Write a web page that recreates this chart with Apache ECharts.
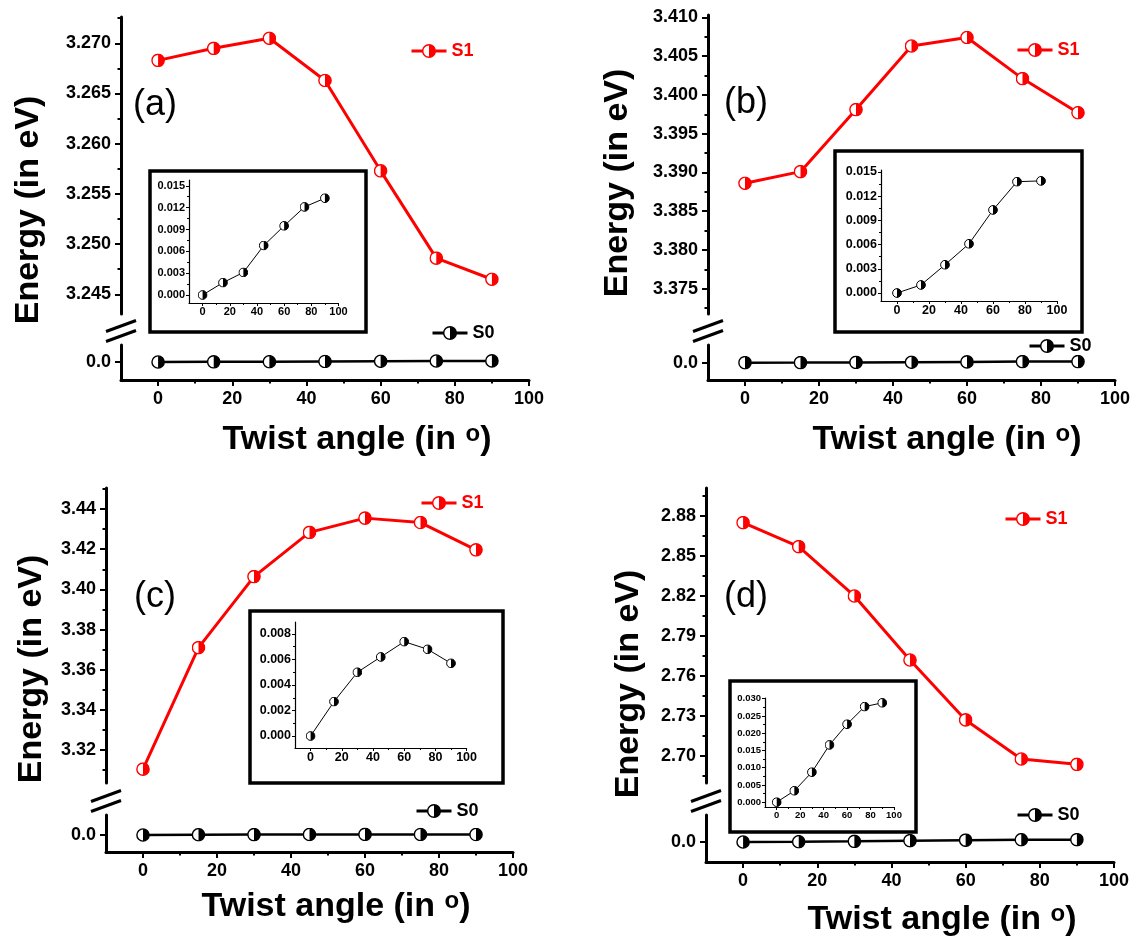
<!DOCTYPE html>
<html><head><meta charset="utf-8">
<script src="https://cdn.jsdelivr.net/npm/echarts@6/dist/echarts.min.js"></script>
<style>html,body{margin:0;padding:0;background:#fff}#c{width:1130px;height:940px}</style>
</head><body><div id="c"></div>
<script>
// ---------------- data ----------------
const angles = [0, 15, 30, 45, 60, 75, 90];

const s1A = [3.2683, 3.2695, 3.2705, 3.2663, 3.2573, 3.2486, 3.2465];
const s0A = [0.0000, 0.0017, 0.0031, 0.0068, 0.0095, 0.0121, 0.0133];

const s1B = [3.3886, 3.3901, 3.3981, 3.4063, 3.4074, 3.4021, 3.3977];
const s0B = [0.0000, 0.0010, 0.0035, 0.0061, 0.0103, 0.0138, 0.0139];

const s1C = [3.3105, 3.3710, 3.4064, 3.4284, 3.4355, 3.4333, 3.4197];
const s0C = [0.0000, 0.0027, 0.0050, 0.0062, 0.0074, 0.0068, 0.0057];

const s1D = [2.8750, 2.8570, 2.8200, 2.7720, 2.7270, 2.6977, 2.6937];
const s0D = [0.0000, 0.0033, 0.0087, 0.0166, 0.0226, 0.0277, 0.0288];

const xTicks = [0, 20, 40, 60, 80, 100];
const xMinor = [10, 30, 50, 70, 90];
const zeroTick = [0];

const yTicksA = [3.245, 3.250, 3.255, 3.260, 3.265, 3.270];
const yTicksB = [3.375, 3.380, 3.385, 3.390, 3.395, 3.400, 3.405, 3.410];
const yTicksC = [3.32, 3.34, 3.36, 3.38, 3.40, 3.42, 3.44];
const yTicksD = [2.70, 2.73, 2.76, 2.79, 2.82, 2.85, 2.88];

const insetTicksA = [0.000, 0.003, 0.006, 0.009, 0.012, 0.015];
const insetTicksB = [0.000, 0.003, 0.006, 0.009, 0.012, 0.015];
const insetTicksC = [0.000, 0.002, 0.004, 0.006, 0.008];
const insetTicksD = [0.000, 0.005, 0.010, 0.015, 0.020, 0.025, 0.030];

const panelLabels = ['(a)', '(b)', '(c)', '(d)'];
const xTitle = 'Twist angle (in {s|o})';
const yTitle = 'Energy (in eV)';

// ---------------- style / layout ----------------
const FONT = "'Liberation Sans', Arial, Helvetica, sans-serif";
const RED = '#ff0000';
const BLACK = '#000000';

function marker(color) {
  const svg = '<svg xmlns="http://www.w3.org/2000/svg" width="40" height="40" viewBox="0 0 40 40">' +
    '<circle cx="20" cy="20" r="17.5" fill="#ffffff" stroke="' + color + '" stroke-width="4"/>' +
    '<path d="M20 2.5 A17.5 17.5 0 0 1 20 37.5 Z" fill="' + color + '"/></svg>';
  return 'image://data:image/svg+xml;charset=utf-8,' + encodeURIComponent(svg);
}
const MK_RED = marker(RED);
const MK_BLACK = marker(BLACK);

function minorOf(ticks, min, max) {
  const step = (ticks[1] - ticks[0]) / 2;
  const out = [];
  const first = ticks[0] - step;
  for (let i = 0; i <= ticks.length; i++) {
    const v = first + i * 2 * step;
    if (v > min && v < max) out.push(+v.toFixed(6));
  }
  return out;
}

const panels = [
  { s1: s1A, s0: s0A, yTicks: yTicksA, dec: 3, insetTicks: insetTicksA, label: panelLabels[0],
    left: 121, width: 408,
    up: { top: 17, height: 297, min: 3.24304, max: 3.27262 },
    low: { top: 345, height: 35, min: -0.225, max: 0.2125 },
    inset: { left: 189, top: 180, width: 149.5, height: 123, min: -0.0011, max: 0.0158, fs: 11 },
    box: [150, 171, 216, 161],
    brk: [121, 331],
    legS1: [410, 52], legS0: [431, 334],
    lab: [155, 105], ylab: [29, 210], xlab: [357, 440] },
  { s1: s1B, s0: s0B, yTicks: yTicksB, dec: 3, insetTicks: insetTicksB, label: panelLabels[1],
    left: 708, width: 407,
    up: { top: 15, height: 299, min: 3.37174, max: 3.4103 },
    low: { top: 345, height: 35, min: -0.216, max: 0.221 },
    inset: { left: 881, top: 170, width: 176, height: 131, min: -0.00099, max: 0.01525, fs: 12.5 },
    box: [835, 151, 247, 181],
    brk: [708, 331],
    legS1: [1016, 51], legS0: [1028, 347],
    lab: [746, 103], ylab: [618, 183], xlab: [947, 440] },
  { s1: s1C, s0: s0C, yTicks: yTicksC, dec: 2, insetTicks: insetTicksC, label: panelLabels[2],
    left: 106, width: 407,
    up: { top: 488, height: 295, min: 3.3036, max: 3.4505 },
    low: { top: 815, height: 37, min: -0.2125, max: 0.25 },
    inset: { left: 295, top: 622, width: 171.6, height: 126, min: -0.00094, max: 0.00894, fs: 12.5 },
    box: [250, 611, 253, 172],
    brk: [106, 801],
    legS1: [420, 504], legS0: [415, 812],
    lab: [155, 597], ylab: [32, 669], xlab: [336, 907] },
  { s1: s1D, s0: s0D, yTicks: yTicksD, dec: 2, insetTicks: insetTicksD, label: panelLabels[3],
    left: 706, width: 408,
    up: { top: 488, height: 295, min: 2.6797, max: 2.901 },
    low: { top: 815, height: 47, min: -0.25, max: 0.3375 },
    inset: { left: 765, top: 698, width: 129, height: 109, min: -0.0014, max: 0.0302, fs: 9.5 },
    box: [730, 681, 186, 151],
    brk: [706, 801],
    legS1: [1004, 520], legS0: [1016, 816],
    lab: [746, 597], ylab: [629, 684], xlab: [942, 920] }
];

const grid = [], xAxis = [], yAxis = [], series = [], legend = [], graphic = [];

function axis(o) {
  return {
    type: 'value', gridIndex: o.grid, min: o.min, max: o.max, position: o.pos,
    show: o.show !== false,
    splitLine: { show: false },
    axisLine: { show: !!o.line, onZero: false, lineStyle: { color: BLACK, width: o.lw || 1 } },
    axisTick: { show: true, inside: false, customValues: o.ticks, length: o.tl,
      lineStyle: { color: BLACK, width: o.tw } },
    axisLabel: o.fmt ? { show: true, customValues: o.ticks, formatter: o.fmt, margin: o.margin,
      color: BLACK, fontSize: o.fs, fontWeight: 'bold', fontFamily: FONT } : { show: false }
  };
}

panels.forEach((p, k) => {
  const g0 = grid.length;
  grid.push({ left: p.left, top: p.up.top, width: p.width, height: p.up.height, outerBoundsMode: 'none' });
  grid.push({ left: p.left, top: p.low.top, width: p.width, height: p.low.height, outerBoundsMode: 'none' });
  grid.push({ left: p.inset.left, top: p.inset.top, width: p.inset.width, height: p.inset.height, outerBoundsMode: 'none' });

  const xi = xAxis.length, yi = yAxis.length;
  // x axes
  xAxis.push(axis({ grid: g0, min: -10, max: 100, pos: 'bottom', show: false, ticks: xTicks, tl: 0, tw: 0 }));
  xAxis.push(axis({ grid: g0 + 1, min: -10, max: 100, pos: 'bottom', line: true, lw: 3, ticks: xTicks, tl: 6, tw: 2,
    fmt: v => String(v), margin: 10, fs: 18 }));
  xAxis.push(axis({ grid: g0 + 1, min: -10, max: 100, pos: 'bottom', ticks: xMinor, tl: 3.5, tw: 2 }));
  xAxis.push(axis({ grid: g0 + 2, min: -10, max: 100, pos: 'bottom', line: true, lw: 1.2, ticks: xTicks, tl: 3, tw: 1,
    fmt: v => String(v), margin: 3, fs: p.inset.fs }));
  xAxis.push(axis({ grid: g0 + 2, min: -10, max: 100, pos: 'bottom', ticks: xMinor, tl: 2, tw: 1 }));
  // y axes
  yAxis.push(axis({ grid: g0, min: p.up.min, max: p.up.max, pos: 'left', line: true, lw: 3, ticks: p.yTicks, tl: 6, tw: 2,
    fmt: v => v.toFixed(p.dec), margin: 10, fs: 18 }));
  yAxis.push(axis({ grid: g0, min: p.up.min, max: p.up.max, pos: 'left', ticks: minorOf(p.yTicks, p.up.min, p.up.max), tl: 3.5, tw: 2 }));
  yAxis.push(axis({ grid: g0 + 1, min: p.low.min, max: p.low.max, pos: 'left', line: true, lw: 3, ticks: zeroTick, tl: 6, tw: 2,
    fmt: v => v.toFixed(1), margin: 10, fs: 18 }));
  yAxis.push(axis({ grid: g0 + 2, min: p.inset.min, max: p.inset.max, pos: 'left', line: true, lw: 1.2, ticks: p.insetTicks, tl: 3, tw: 1,
    fmt: v => v.toFixed(3), margin: 4, fs: p.inset.fs }));
  yAxis.push(axis({ grid: g0 + 2, min: p.inset.min, max: p.inset.max, pos: 'left', ticks: minorOf(p.insetTicks, p.inset.min, p.inset.max), tl: 2, tw: 1 }));

  series.push({
    type: 'line', name: 'S1', xAxisIndex: xi, yAxisIndex: yi,
    data: angles.map((a, i) => [a, p.s1[i]]),
    symbol: MK_RED, symbolSize: 14, lineStyle: { color: RED, width: 3 }, itemStyle: { color: RED },
    z: 3, animation: false, silent: true
  });
  series.push({
    type: 'line', name: 'S0', xAxisIndex: xi + 1, yAxisIndex: yi + 2,
    data: angles.map((a, i) => [a, p.s0[i]]),
    symbol: MK_BLACK, symbolSize: 14, lineStyle: { color: BLACK, width: 2.5 }, itemStyle: { color: BLACK },
    z: 3, animation: false, silent: true
  });
  series.push({
    type: 'line', name: 'inset ' + k, xAxisIndex: xi + 3, yAxisIndex: yi + 3,
    data: angles.map((a, i) => [a, p.s0[i]]),
    symbol: MK_BLACK, symbolSize: 10, lineStyle: { color: BLACK, width: 1 }, itemStyle: { color: BLACK },
    z: 3, animation: false, silent: true
  });

  legend.push({ data: ['S1'], left: p.legS1[0], top: p.legS1[1] - 10, padding: 0, itemWidth: 35, itemHeight: 18,
    lineStyle: { width: 3, color: RED },
    selectedMode: false, textStyle: { color: RED, fontSize: 18, fontWeight: 'bold', fontFamily: FONT } });
  legend.push({ data: ['S0'], left: p.legS0[0], top: p.legS0[1] - 10, padding: 0, itemWidth: 35, itemHeight: 18,
    lineStyle: { width: 3, color: BLACK },
    selectedMode: false, textStyle: { color: BLACK, fontSize: 18, fontWeight: 'bold', fontFamily: FONT } });

  // inset frame
  graphic.push({ type: 'rect', shape: { x: p.box[0], y: p.box[1], width: p.box[2], height: p.box[3] },
    style: { fill: 'none', stroke: BLACK, lineWidth: 3.5 }, z: 10, silent: true });
  // axis break marks
  const cx = p.brk[0], cy = p.brk[1];
  graphic.push({ type: 'rect', shape: { x: cx - 16, y: cy - 11, width: 32, height: 22 }, style: { fill: '#fff' }, z: 9, silent: true });
  graphic.push({ type: 'line', shape: { x1: cx - 15, y1: cy + 0.5, x2: cx + 15, y2: cy - 10.5 },
    style: { stroke: BLACK, lineWidth: 3 }, z: 10, silent: true });
  graphic.push({ type: 'line', shape: { x1: cx - 15, y1: cy + 10.5, x2: cx + 15, y2: cy - 0.5 },
    style: { stroke: BLACK, lineWidth: 3 }, z: 10, silent: true });
  // texts
  graphic.push({ type: 'text', x: p.lab[0], y: p.lab[1], z: 10, silent: true,
    style: { text: p.label, fontSize: 36, fontFamily: FONT, fill: BLACK, align: 'center', verticalAlign: 'middle' } });
  graphic.push({ type: 'text', x: p.ylab[0], y: p.ylab[1], rotation: Math.PI / 2, z: 10, silent: true,
    style: { text: yTitle, fontSize: 34, fontWeight: 'bold', fontFamily: FONT, fill: BLACK, align: 'center', verticalAlign: 'middle' } });
  graphic.push({ type: 'text', x: p.xlab[0], y: p.xlab[1], z: 10, silent: true,
    style: { text: xTitle, fontSize: 34, fontWeight: 'bold', fontFamily: FONT, fill: BLACK, align: 'center', verticalAlign: 'middle',
      rich: { s: { fontSize: 24, fontWeight: 'bold', fontFamily: FONT, fill: BLACK, padding: [0, 0, 12, 0] } } } });
});

const chart = echarts.init(document.getElementById('c'), null, { renderer: 'canvas' });
chart.setOption({
  backgroundColor: '#ffffff',
  animation: false,
  grid, xAxis, yAxis, series, legend, graphic
});
</script>
</body></html>
